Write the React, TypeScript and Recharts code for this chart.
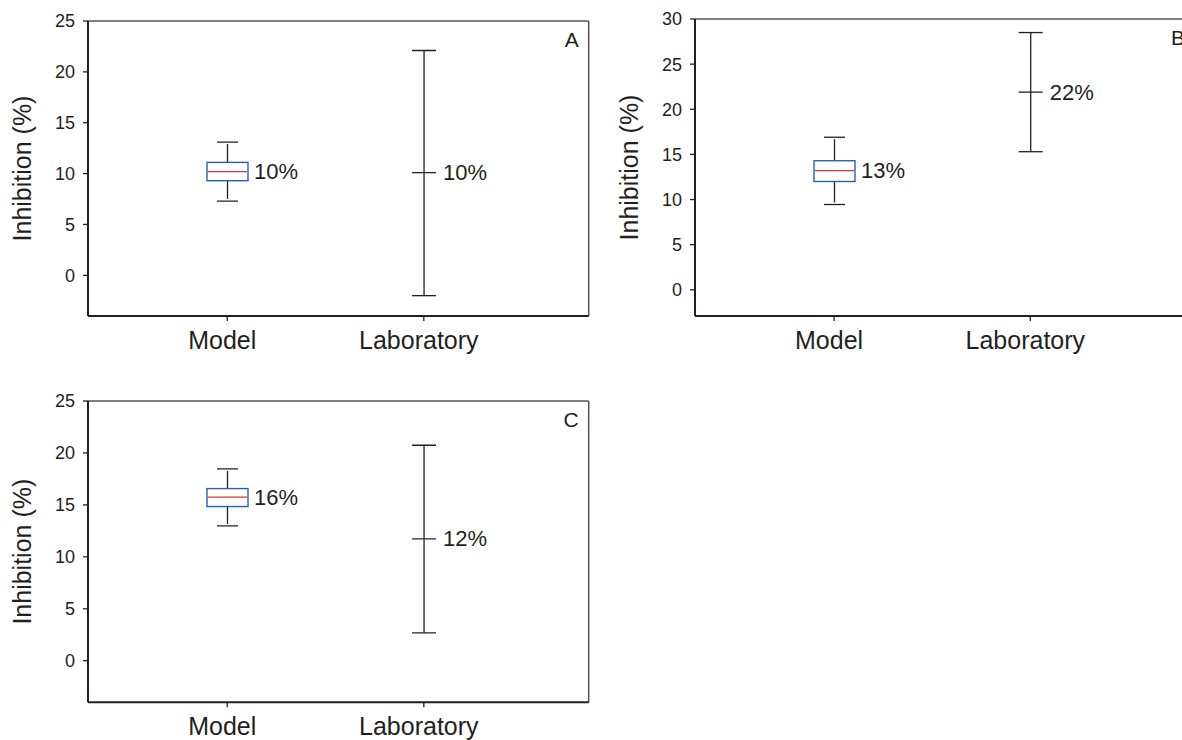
import React from 'react';
import { ComposedChart, Bar, XAxis, YAxis, CartesianGrid, ReferenceLine } from 'recharts';

const categories = ['Model', 'Laboratory'];

// panel A: whisker low, box q1, median / mean, box q3, whisker high (null = no box)
const aLow = [7.3, -2.0];
const aQ1 = [9.3, null];
const aMid = [10.2, 10.1];
const aQ3 = [11.1, null];
const aHigh = [13.1, 22.1];
const aLabels = ['10%', '10%'];

// panel B
const bLow = [9.45, 15.3];
const bQ1 = [12.0, null];
const bMid = [13.2, 21.9];
const bQ3 = [14.3, null];
const bHigh = [16.9, 28.5];
const bLabels = ['13%', '22%'];

// panel C
const cLow = [12.98, 2.69];
const cQ1 = [14.84, null];
const cMid = [15.74, 11.73];
const cQ3 = [16.57, null];
const cHigh = [18.46, 20.74];
const cLabels = ['16%', '12%'];

const ticksAC = [0, 5, 10, 15, 20, 25];
const ticksB = [0, 5, 10, 15, 20, 25, 30];

const INK = '#231f20';
const FRAME = '#555';
const BOX_BLUE = '#2b5fb4';
const MEDIAN_RED = '#e2322b';

function buildRows(low: any[], q1: any[], mid: any[], q3: any[], high: any[], labels: string[]) {
  return categories.map((name, i) => ({
    name,
    range: [low[i], high[i]],
    low: low[i],
    q1: q1[i],
    mid: mid[i],
    q3: q3[i],
    high: high[i],
    label: labels[i],
  }));
}

const rowsA = buildRows(aLow, aQ1, aMid, aQ3, aHigh, aLabels);
const rowsB = buildRows(bLow, bQ1, bMid, bQ3, bHigh, bLabels);
const rowsC = buildRows(cLow, cQ1, cMid, cQ3, cHigh, cLabels);

// draws either a box plot or a plain error bar inside the range bar that recharts laid out
function BoxShape(props: any) {
  const { x, y, width, height, payload } = props;
  if (!payload || height == null) return null;
  const top = Math.min(y, y + height);
  const h = Math.abs(height);
  const ppu = h / (payload.high - payload.low);
  const py = (v: number) => top + (payload.high - v) * ppu;
  const cx = x + width / 2;
  const yHi = py(payload.high);
  const yLo = py(payload.low);
  const yMid = py(payload.mid);
  const line = { stroke: INK, strokeWidth: 1.3 };

  if (payload.q1 != null) {
    const yQ3 = py(payload.q3);
    const yQ1 = py(payload.q1);
    return (
      <g>
        <line x1={cx - 10.5} x2={cx + 10.5} y1={yHi} y2={yHi} {...line} />
        <line x1={cx} x2={cx} y1={yHi + 2} y2={yQ3} {...line} />
        <line x1={cx} x2={cx} y1={yQ1} y2={yLo - 2} {...line} />
        <line x1={cx - 10.5} x2={cx + 10.5} y1={yLo} y2={yLo} {...line} />
        <rect x={x} y={yQ3} width={width} height={yQ1 - yQ3} fill="#fff" stroke={BOX_BLUE} strokeWidth={1.4} />
        <line x1={x + 1} x2={x + width - 1} y1={yMid} y2={yMid} stroke={MEDIAN_RED} strokeWidth={1.3} />
        <text x={x + width + 6} y={yMid} dominantBaseline="central" fontSize={22} fill={INK}>
          {payload.label}
        </text>
      </g>
    );
  }

  return (
    <g>
      <line x1={cx - 12} x2={cx + 12} y1={yHi} y2={yHi} {...line} />
      <line x1={cx} x2={cx} y1={yHi} y2={yLo} {...line} />
      <line x1={cx - 12} x2={cx + 12} y1={yLo} y2={yLo} {...line} />
      <line x1={cx - 12} x2={cx + 12} y1={yMid} y2={yMid} {...line} />
      <text x={cx + 19} y={yMid} dominantBaseline="central" fontSize={22} fill={INK}>
        {payload.label}
      </text>
    </g>
  );
}

// right edge of the plot frame, taken from the grid's own offset
const rightEdge = (p: any) => {
  const o = p.offset || {};
  const w = o.width != null ? o.width : p.width - (o.left || 0) - (o.right || 0);
  return [(o.left || 0) + w];
};

// panel letter in the top right corner, placed from the reference line's view box
const cornerLetter = (letter: string) => (p: any) => {
  const vb = p.viewBox || {};
  return (
    <text
      x={vb.x + vb.width - 10}
      y={vb.y + 11}
      textAnchor="end"
      dominantBaseline="hanging"
      fontSize={21}
      fill={INK}
    >
      {letter}
    </text>
  );
};

function Panel({ rows, domain, ticks, letter, left, top, height, margin, xAxisHeight }: any) {
  return (
    <div style={{ position: 'absolute', left, top }}>
      <ComposedChart width={600} height={height} data={rows} margin={margin}>
        <CartesianGrid
          horizontal={false}
          vertical
          stroke={FRAME}
          strokeWidth={1.5}
          verticalCoordinatesGenerator={rightEdge}
        />
        <XAxis
          dataKey="name"
          padding={{ left: 41, right: 66.6 }}
          height={xAxisHeight}
          interval={0}
          tickSize={5}
          tickMargin={10}
          tick={{ fontSize: 25, fill: INK, dx: -5 }}
          axisLine={{ stroke: INK, strokeWidth: 2 }}
          tickLine={{ stroke: INK, strokeWidth: 1.3 }}
        />
        <YAxis
          type="number"
          domain={domain}
          ticks={ticks}
          allowDataOverflow
          width={88}
          tickSize={5}
          tickMargin={8}
          tick={{ fontSize: 18, fill: INK }}
          axisLine={{ stroke: INK, strokeWidth: 2 }}
          tickLine={{ stroke: INK, strokeWidth: 1.3 }}
          label={{
            value: 'Inhibition (%)',
            angle: -90,
            position: 'insideLeft',
            offset: 22,
            style: { textAnchor: 'middle', fontSize: 25, fill: INK },
          }}
        />
        <ReferenceLine y={domain[1]} stroke={FRAME} strokeWidth={1.5} label={cornerLetter(letter)} />
        <Bar dataKey="range" barSize={41} isAnimationActive={false} shape={(p: any) => <BoxShape {...p} />} />
      </ComposedChart>
    </div>
  );
}

export default function App() {
  return (
    <div
      style={{
        position: 'absolute',
        left: 0,
        top: 0,
        width: 1182,
        height: 740,
        overflow: 'hidden',
        background: '#fff',
        fontFamily: '"Liberation Sans", Arial, sans-serif',
      }}
    >
      <Panel
        rows={rowsA}
        domain={[-4, 25]}
        ticks={ticksAC}
        letter="A"
        left={0}
        top={0}
        height={370}
        xAxisHeight={40}
        margin={{ top: 21, right: 11.3, bottom: 14, left: 0 }}
      />
      <Panel
        rows={rowsB}
        domain={[-2.9, 30]}
        ticks={ticksB}
        letter="B"
        left={607}
        top={0}
        height={370}
        xAxisHeight={40}
        margin={{ top: 19, right: 12, bottom: 14, left: 0 }}
      />
      <Panel
        rows={rowsC}
        domain={[-4, 25]}
        ticks={ticksAC}
        letter="C"
        left={0}
        top={380}
        height={360}
        xAxisHeight={35}
        margin={{ top: 21, right: 11.3, bottom: 2.7, left: 0 }}
      />
    </div>
  );
}
